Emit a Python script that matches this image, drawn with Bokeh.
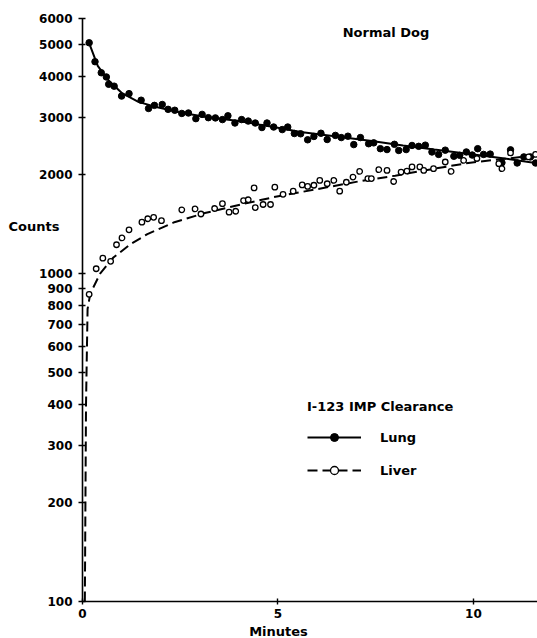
from bokeh.plotting import figure
from bokeh.models import Range1d, FixedTicker, Label, Legend, LegendItem, PrintfTickFormatter
from bokeh.embed import file_html
from bokeh.resources import INLINE

# ---------------- data ----------------
lung_minutes = [0.17, 0.32, 0.48, 0.61, 0.67, 0.81, 1.00, 1.19, 1.50, 1.69, 1.84, 2.04, 2.19,
                2.36, 2.54, 2.71, 2.90, 3.06, 3.22, 3.40, 3.58, 3.72, 3.90, 4.07, 4.24, 4.42,
                4.59, 4.72, 4.89,
                5.11, 5.25, 5.42, 5.58, 5.76, 5.92, 6.10, 6.26, 6.47, 6.62,
                6.79, 6.94, 7.11, 7.32, 7.45, 7.62, 7.79, 7.98, 8.09, 8.28,
                8.43, 8.60, 8.77, 8.94, 9.11, 9.28, 9.50, 9.65, 9.82, 9.97,
                10.11, 10.26, 10.43, 10.73, 10.95, 11.12, 11.29, 11.46, 11.59]
lung_counts = [5060, 4430, 4100, 3980, 3780, 3730, 3480, 3540, 3380, 3190, 3260, 3280, 3170,
               3150, 3080, 3090, 2970, 3060, 2990, 2985, 2950, 3030, 2880, 2950, 2920, 2880,
               2790, 2880, 2800,
               2750, 2800, 2675, 2670, 2560, 2620, 2680, 2565, 2640, 2600,
               2625, 2475, 2600, 2490, 2505, 2405, 2390, 2480, 2375, 2390,
               2460, 2445, 2465, 2350, 2310, 2380, 2280, 2295, 2350, 2300,
               2405, 2310, 2315, 2180, 2385, 2175, 2270, 2270, 2175]

liver_minutes = [0.17, 0.35, 0.52, 0.72, 0.87, 1.01, 1.19, 1.52, 1.67, 1.82, 2.02, 2.54, 2.88,
                 3.03, 3.38, 3.58, 3.75, 3.92, 4.12, 4.24, 4.39, 4.42, 4.62, 4.81, 4.92,
                 5.13, 5.39, 5.62, 5.76, 5.92, 6.07, 6.26, 6.43, 6.58, 6.75,
                 6.92, 7.09, 7.30, 7.39, 7.58, 7.79, 7.96, 8.15, 8.30, 8.43,
                 8.63, 8.73, 8.98, 9.28, 9.43, 9.75, 10.09, 10.65, 10.73, 10.95,
                 11.41, 11.59]
liver_counts = [865, 1035, 1115, 1090, 1225, 1285, 1360, 1435, 1470, 1485, 1450, 1565, 1575,
                1520, 1580, 1635, 1540, 1550, 1670, 1680, 1825, 1590, 1625, 1625, 1835,
                1745, 1785, 1865, 1845, 1860, 1925, 1880, 1925, 1785, 1900,
                1970, 2050, 1950, 1950, 2075, 2065, 1910, 2040, 2055, 2115,
                2115, 2065, 2090, 2190, 2050, 2215, 2245, 2165, 2090, 2335,
                2270, 2310]

lung_fit_minutes = [0.17, 0.39, 0.65, 1.0, 1.43, 1.86, 2.5, 3.2, 4.0, 4.89, 5.58, 6.5, 7.4,
                    8.2, 9.0, 10.0, 10.8, 11.64]
lung_fit_counts = [5050, 4300, 3900, 3560, 3340, 3230, 3100, 3000, 2920, 2800, 2705, 2620,
                   2540, 2460, 2390, 2310, 2245, 2170]

liver_fit_minutes = [0.06, 0.09, 0.13, 0.2, 0.45, 0.79, 1.23, 1.66, 2.35, 3.13, 4.0, 4.9,
                     6.0, 7.0, 8.0, 9.0, 9.92, 10.8, 11.64]
liver_fit_counts = [100, 400, 780, 870, 1000, 1120, 1230, 1320, 1435, 1530, 1620, 1712,
                    1810, 1905, 1990, 2090, 2180, 2240, 2296]

y_tick_values = [100, 200, 300, 400, 500, 600, 700, 800, 900, 1000, 2000, 3000, 4000, 5000, 6000]
y_tick_labels = ["100", "200", "300", "400", "500", "600", "700", "800", "900", "1000",
                 "2000", "3000", "4000", "5000", "6000"]
x_tick_values = [0, 5, 10]
x_tick_labels = ["0", "5", "10"]

title_text = "Normal Dog"
x_label = "Minutes"
y_label = "Counts"
legend_title = "I-123 IMP Clearance"
series_names = ["Lung", "Liver"]

# ---------------- figure ----------------
FONT = "DejaVu Sans"

p = figure(width=537, height=638,
           x_range=Range1d(0, 11.64), y_range=Range1d(100, 6000),
           y_axis_type="log",
           output_backend="svg", toolbar_location=None,
           min_border_left=82, min_border_right=0, min_border_top=18, min_border_bottom=37)
p.outline_line_color = None
p.background_fill_color = "white"
p.border_fill_color = "white"
p.grid.visible = False

for ax in (p.xaxis[0], p.yaxis[0]):
    ax.axis_line_color = "black"
    ax.axis_line_width = 1.6
    ax.major_tick_line_color = "black"
    ax.major_tick_line_width = 1.4
    ax.minor_tick_line_color = None
    ax.major_label_text_font = FONT
    ax.major_label_text_font_style = "bold"
    ax.major_label_text_font_size = "12px"
    ax.major_label_text_color = "black"

p.yaxis.ticker = FixedTicker(ticks=y_tick_values, minor_ticks=[])
p.yaxis.formatter = PrintfTickFormatter(format="%d")
p.yaxis.major_label_overrides = {v: l for v, l in zip(y_tick_values, y_tick_labels)}
p.yaxis.major_tick_in = 3
p.yaxis.major_tick_out = 4
p.yaxis.major_label_standoff = 6

p.xaxis.ticker = FixedTicker(ticks=x_tick_values, minor_ticks=[])
p.xaxis.major_label_overrides = {v: l for v, l in zip(x_tick_values, x_tick_labels)}
p.xaxis.major_tick_in = 3
p.xaxis.major_tick_out = 3
p.xaxis.major_label_standoff = 4

# ---------------- series ----------------
lung_line = p.line(lung_fit_minutes, lung_fit_counts, line_color="black", line_width=2)
liver_line = p.line(liver_fit_minutes, liver_fit_counts, line_color="black", line_width=2,
                    line_dash="10 5")
lung_pts = p.scatter(lung_minutes, lung_counts, marker="circle", size=6.5,
                     fill_color="black", line_color="black", line_width=1)
liver_pts = p.scatter(liver_minutes, liver_counts, marker="circle", size=5.5,
                      fill_color="white", line_color="black", line_width=1.3)

# ---------------- legend ----------------
legend = Legend(
    items=[LegendItem(label=series_names[0], renderers=[lung_line, lung_pts]),
           LegendItem(label=series_names[1], renderers=[liver_line, liver_pts])],
    location=(225, 121),
    title=legend_title,
    title_text_font=FONT, title_text_font_style="bold", title_text_font_size="13px",
    title_text_color="black", title_standoff=13,
    label_text_font=FONT, label_text_font_style="bold", label_text_font_size="13px",
    label_text_color="black", label_standoff=19,
    glyph_width=54, glyph_height=20, label_height=20, spacing=13,
    padding=0, margin=0,
    border_line_alpha=0, background_fill_alpha=0,
)
p.add_layout(legend)

# ---------------- texts ----------------
common = dict(text_font=FONT, text_font_style="bold", text_font_size="13px",
              text_color="black", text_baseline="middle")
# inside the frame
p.add_layout(Label(x=303.5, y=569.5, x_units="screen", y_units="screen",
                   text=title_text, text_align="center", **common))
# outside the frame: placed in side panels so they are not clipped
p.add_layout(Label(x=-74, y=-208, x_units="screen", y_units="screen",
                   text=y_label, text_align="left", **common), "above")
p.add_layout(Label(x=196, y=4, x_units="screen", y_units="screen",
                   text=x_label, text_align="center", **common), "below")

open("out.html", "w").write(file_html(p, INLINE))
